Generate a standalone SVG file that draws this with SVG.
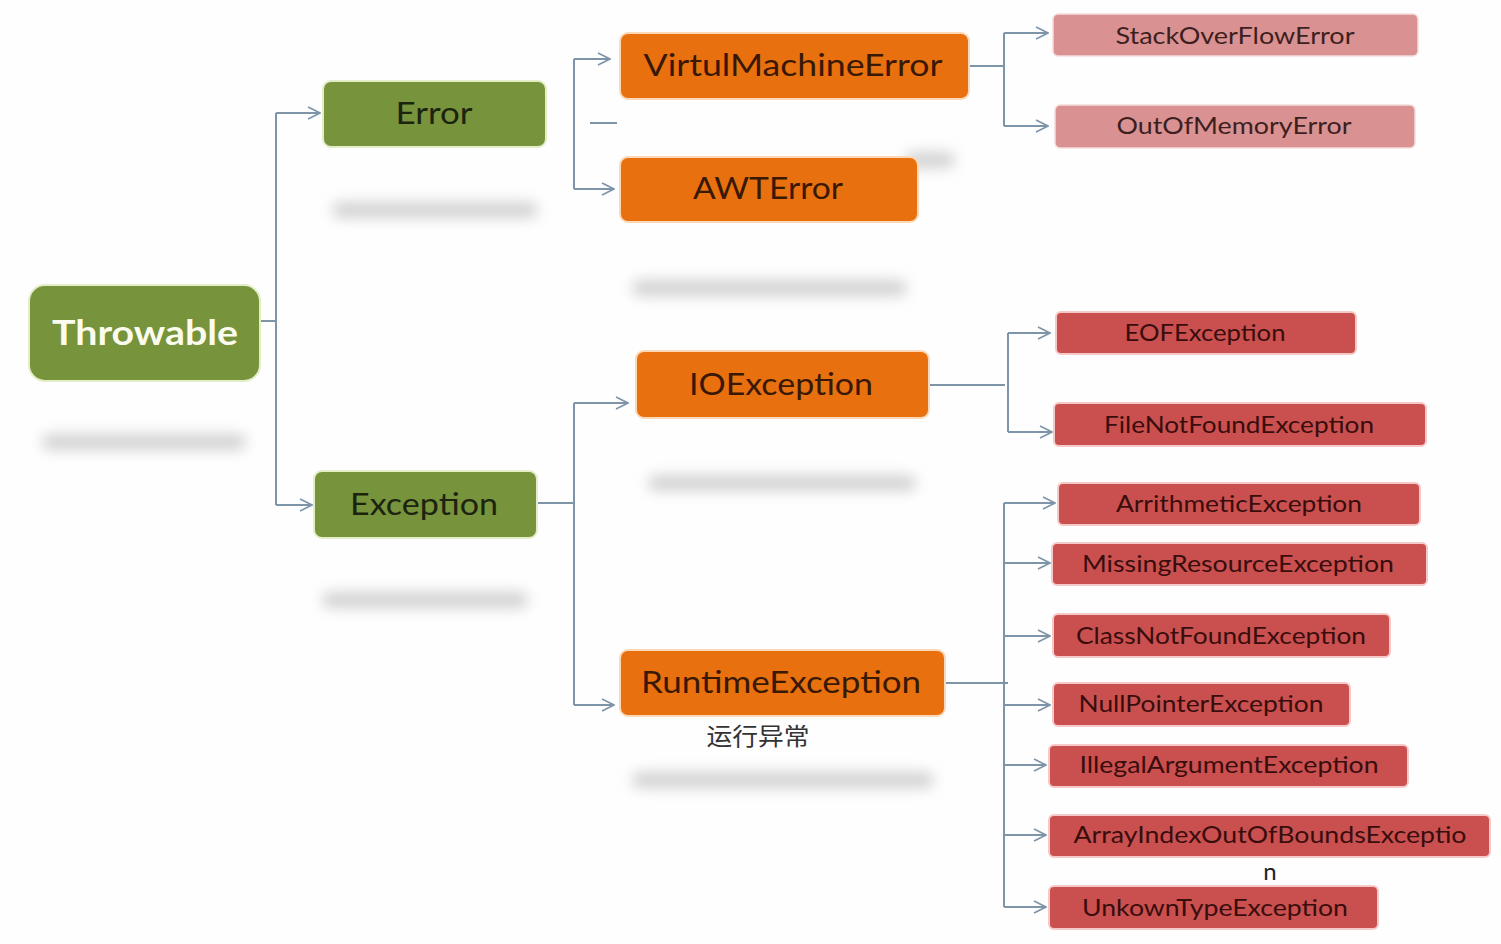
<svg xmlns="http://www.w3.org/2000/svg" width="1501" height="944" viewBox="0 0 1501 944">
<style>
.bg{fill:#fefefe}
.g{fill:#77933c;stroke:#e3edc8;stroke-width:2}
.o{fill:#e8700e;stroke:#fbd9b8;stroke-width:2}
.p{fill:#da9192;stroke:#f5dcdc;stroke-width:1.5}
.r{fill:#c9504f;stroke:#f6c9c9;stroke-width:2}
.t{font-family:Lato,"Open Sans","Liberation Sans",sans-serif;text-anchor:middle;dominant-baseline:central}
.tg{fill:#1c2410;font-size:31px}
.tw{fill:#fbfbee;font-size:35px;font-weight:bold}
.to{fill:#3a1806;font-size:31px}
.tp{fill:#3d1f1f;font-size:24px}
.tr{fill:#3a0d0d;font-size:24px}
.cn{font-family:"Noto Sans CJK SC",sans-serif;font-size:24px;fill:#333;text-anchor:middle;dominant-baseline:central}
.c{fill:none;stroke:#7e94a8;stroke-width:2}
.sh{fill:#d2d2d2;filter:url(#blur)}
</style>
<defs>
<filter id="blur" x="-20%" y="-300%" width="140%" height="700%"><feGaussianBlur stdDeviation="7"/></filter>
<marker id="a" viewBox="0 0 14 14" refX="13" refY="7" markerWidth="14" markerHeight="14" markerUnits="userSpaceOnUse" orient="auto"><path d="M1,1 L13,7 L1,13" fill="none" stroke="#7e94a8" stroke-width="1.6"/></marker>
</defs>
<rect class="bg" x="0" y="0" width="1501" height="944"/>
<g id="shadows">
<rect class="sh" x="42" y="434" width="204" height="16" rx="8"/>
<rect class="sh" x="332" y="202" width="206" height="16" rx="8"/>
<rect class="sh" x="322" y="592" width="206" height="16" rx="8"/>
<rect class="sh" x="632" y="280" width="275" height="16" rx="8"/>
<rect class="sh" x="648" y="475" width="268" height="16" rx="8"/>
<rect class="sh" x="632" y="772" width="302" height="16" rx="8"/>
<rect class="sh" x="905" y="152" width="50" height="16" rx="8"/>
</g>
<g id="connectors">
<path class="c" d="M260,321 H276"/>
<path class="c" d="M276,113 V505"/>
<path class="c" d="M276,113 H320" marker-end="url(#a)"/>
<path class="c" d="M276,505 H312" marker-end="url(#a)"/>
<path class="c" d="M574,59 V189"/>
<path class="c" d="M574,59 H610" marker-end="url(#a)"/>
<path class="c" d="M574,189 H614" marker-end="url(#a)"/>
<path class="c" d="M590,123 H617"/>
<path class="c" d="M969,66 H1004"/>
<path class="c" d="M1004,33 V126"/>
<path class="c" d="M1004,33 H1048" marker-end="url(#a)"/>
<path class="c" d="M1004,126 H1048" marker-end="url(#a)"/>
<path class="c" d="M537,503 H574"/>
<path class="c" d="M574,403 V705"/>
<path class="c" d="M574,403 H628" marker-end="url(#a)"/>
<path class="c" d="M574,705 H614" marker-end="url(#a)"/>
<path class="c" d="M929,385 H1005"/>
<path class="c" d="M1008,333 V432"/>
<path class="c" d="M1008,333 H1050" marker-end="url(#a)"/>
<path class="c" d="M1008,432 H1052" marker-end="url(#a)"/>
<path class="c" d="M945,683 H1008"/>
<path class="c" d="M1004,503 V907"/>
<path class="c" d="M1004,503 H1055" marker-end="url(#a)"/>
<path class="c" d="M1004,563 H1050" marker-end="url(#a)"/>
<path class="c" d="M1004,636 H1050" marker-end="url(#a)"/>
<path class="c" d="M1004,705 H1050" marker-end="url(#a)"/>
<path class="c" d="M1004,765 H1046" marker-end="url(#a)"/>
<path class="c" d="M1004,835 H1046" marker-end="url(#a)"/>
<path class="c" d="M1004,907 H1046" marker-end="url(#a)"/>
</g>
<g id="throwable"><rect class="g" x="29" y="285" width="231" height="96" rx="16"/><text class="t tw" x="145" y="331" textLength="186" lengthAdjust="spacingAndGlyphs">Throwable</text></g>
<g id="error"><rect class="g" x="323" y="81" width="223" height="66" rx="8"/><text class="t tg" x="434" y="112" textLength="77" lengthAdjust="spacingAndGlyphs">Error</text></g>
<g id="exception"><rect class="g" x="314" y="471" width="223" height="67" rx="8"/><text class="t tg" x="424" y="503" textLength="148" lengthAdjust="spacingAndGlyphs">Exception</text></g>
<g id="virtualmachineerror"><rect class="o" x="620" y="33" width="349" height="66" rx="8"/><text class="t to" x="793" y="64" textLength="299" lengthAdjust="spacingAndGlyphs">VirtulMachineError</text></g>
<g id="awterror"><rect class="o" x="620" y="157" width="298" height="65" rx="8"/><text class="t to" x="768" y="187" textLength="150" lengthAdjust="spacingAndGlyphs">AWTError</text></g>
<g id="ioexception"><rect class="o" x="636" y="351" width="293" height="67" rx="8"/><text class="t to" x="781" y="383" textLength="184" lengthAdjust="spacingAndGlyphs">IOException</text></g>
<g id="runtimeexception"><rect class="o" x="620" y="650" width="325" height="66" rx="8"/><text class="t to" x="781" y="681" textLength="280" lengthAdjust="spacingAndGlyphs">RuntimeException</text><text class="cn" x="758" y="734" textLength="103" lengthAdjust="spacingAndGlyphs">运行异常</text></g>
<g id="stackoverflowerror"><rect class="p" x="1053" y="14" width="365" height="42" rx="5"/><text class="t tp" x="1235" y="34.5" textLength="239" lengthAdjust="spacingAndGlyphs">StackOverFlowError</text></g>
<g id="outofmemoryerror"><rect class="p" x="1055" y="105" width="360" height="43" rx="5"/><text class="t tp" x="1234" y="124.5" textLength="235" lengthAdjust="spacingAndGlyphs">OutOfMemoryError</text></g>
<g id="eofexception"><rect class="r" x="1056" y="312" width="300" height="42" rx="5"/><text class="t tr" x="1205" y="331.5" textLength="161" lengthAdjust="spacingAndGlyphs">EOFException</text></g>
<g id="filenotfoundexception"><rect class="r" x="1054" y="403" width="372" height="43" rx="5"/><text class="t tr" x="1239" y="423.5" textLength="270" lengthAdjust="spacingAndGlyphs">FileNotFoundException</text></g>
<g id="arrithmeticexception"><rect class="r" x="1058" y="483" width="362" height="42" rx="5"/><text class="t tr" x="1239" y="502.5" textLength="246" lengthAdjust="spacingAndGlyphs">ArrithmeticException</text></g>
<g id="missingresourceexception"><rect class="r" x="1052" y="543" width="375" height="42" rx="5"/><text class="t tr" x="1238" y="562.5" textLength="312" lengthAdjust="spacingAndGlyphs">MissingResourceException</text></g>
<g id="classnotfoundexception"><rect class="r" x="1053" y="614" width="337" height="43" rx="5"/><text class="t tr" x="1221" y="634.5" textLength="290" lengthAdjust="spacingAndGlyphs">ClassNotFoundException</text></g>
<g id="nullpointerexception"><rect class="r" x="1053" y="683" width="297" height="43" rx="5"/><text class="t tr" x="1201" y="702.5" textLength="245" lengthAdjust="spacingAndGlyphs">NullPointerException</text></g>
<g id="illegalargumentexception"><rect class="r" x="1049" y="745" width="359" height="42" rx="5"/><text class="t tr" x="1229" y="763.5" textLength="299" lengthAdjust="spacingAndGlyphs">IllegalArgumentException</text></g>
<g id="arrayindexoutofboundsexception"><rect class="r" x="1049" y="815" width="441" height="42" rx="5"/><text class="t tr" x="1270" y="833.5" textLength="393" lengthAdjust="spacingAndGlyphs">ArrayIndexOutOfBoundsExceptio</text><text class="t tr" x="1270" y="870.5" style="fill:#222">n</text></g>
<g id="unkowntypeexception"><rect class="r" x="1049" y="886" width="329" height="43" rx="5"/><text class="t tr" x="1215" y="906.5" textLength="266" lengthAdjust="spacingAndGlyphs">UnkownTypeException</text></g>
</svg>
